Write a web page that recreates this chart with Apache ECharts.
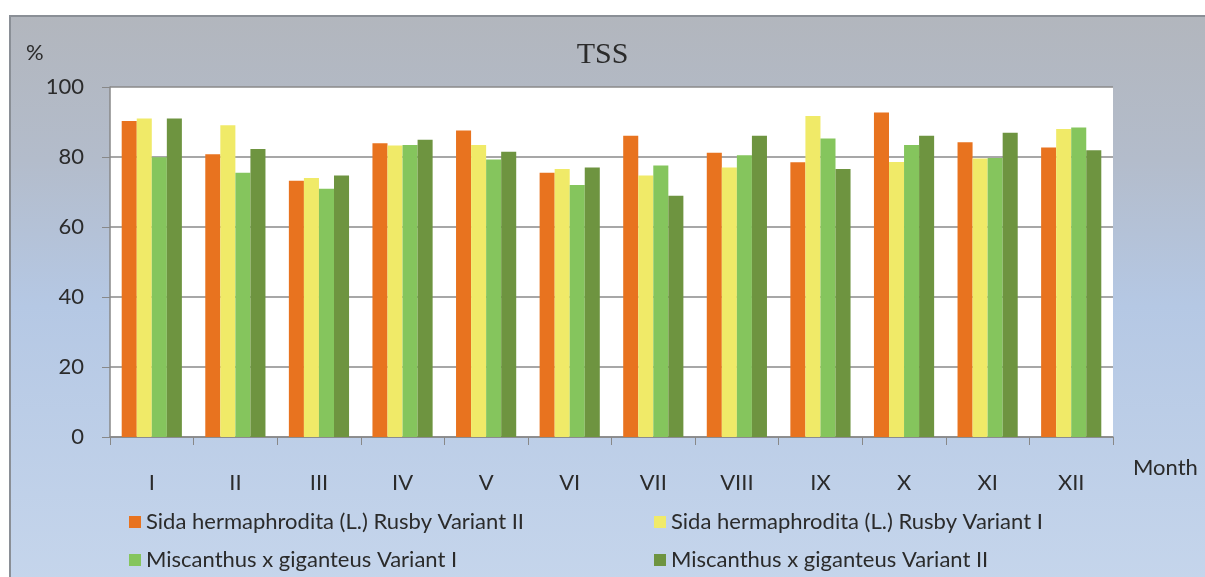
<!DOCTYPE html>
<html><head><meta charset="utf-8">
<script src="https://cdn.jsdelivr.net/npm/echarts@6/dist/echarts.min.js"></script>
<style>html,body{margin:0;padding:0;background:#fff}#c{width:1205px;height:577px}</style>
</head><body><div id="c"></div>
<script>
const months = ['I','II','III','IV','V','VI','VII','VIII','IX','X','XI','XII'];
const sidaV2 = [90.3, 80.8, 73.2, 83.9, 87.6, 75.5, 86.1, 81.2, 78.5, 92.7, 84.2, 82.7];
const sidaV1 = [91.0, 89.1, 74.0, 83.3, 83.4, 76.6, 74.7, 77.0, 91.7, 78.6, 79.6, 88.0];
const miscV1 = [79.9, 75.5, 70.9, 83.4, 79.3, 72.0, 77.6, 80.5, 85.3, 83.4, 79.7, 88.4];
const miscV2 = [91.0, 82.3, 74.7, 84.9, 81.5, 77.0, 68.9, 86.1, 76.6, 86.1, 86.9, 81.9];
const names = ['Sida hermaphrodita (L.) Rusby Variant II','Sida hermaphrodita (L.) Rusby Variant I','Miscanthus x giganteus Variant I','Miscanthus x giganteus Variant II'];
const colors = ['#E8731F','#F0EA68','#85C55D','#6E9440'];
const yTicks = [0,20,40,60,80,100];

const chart = echarts.init(document.getElementById('c'));
const font = 'Lato, "Open Sans", sans-serif';
const txt = '#2b2b2b';
const series = [sidaV2, sidaV1, miscV1, miscV2].map((d,i)=>({
  name: names[i], type:'bar', data:d, barGap:'0%', barCategoryGap:'28%',
  itemStyle:{color:colors[i]}, animation:false
}));
chart.setOption({
  animation:false,
  graphic:[{
    type:'rect', z:-10, shape:{x:10,y:16,width:1210,height:580},
    style:{fill:new echarts.graphic.LinearGradient(0,0,0,1,[
      {offset:0,color:'#b2b6bd'},{offset:0.25,color:'#b3bccb'},{offset:0.5,color:'#b5c8e4'},{offset:1,color:'#c6d6ec'}]),
      stroke:'#8a8f96', lineWidth:2}
  },{
    type:'text', left:1133, top:457, style:{text:'Month', font:'22px '+font, fill:txt}
  },{
    type:'text', left:26, top:42, style:{text:'%', font:'22px '+font, fill:txt}
  }],
  title:{text:'TSS', left:'center', top:35, textStyle:{fontFamily:'"Liberation Serif", "DejaVu Serif", serif', fontWeight:'normal', fontSize:30, color:txt}},
  grid:{left:110, right:92, top:87, bottom:140, show:true, backgroundColor:'#fff', borderWidth:0},
  legend:[{
    orient:'vertical', left:124, top:506, itemGap:16, itemWidth:12, itemHeight:12, icon:'rect',
    data:[names[0], names[2]], textStyle:{fontFamily:font, fontSize:22, color:txt}
  },{
    orient:'vertical', left:649, top:506, itemGap:16, itemWidth:12, itemHeight:12, icon:'rect',
    data:[names[1], names[3]], textStyle:{fontFamily:font, fontSize:22, color:txt}
  }],
  xAxis:{type:'category', data:months,
    axisLine:{lineStyle:{color:'#888', width:1.5}},
    axisTick:{show:true, length:8, lineStyle:{color:'#888'}},
    axisLabel:{margin:35, fontFamily:font, fontSize:22, color:txt}},
  yAxis:{type:'value', min:0, max:100, interval:20,
    axisLine:{show:true, lineStyle:{color:'#888', width:1.5}},
    axisTick:{show:true, length:8, inside:false, lineStyle:{color:'#888'}},
    splitLine:{lineStyle:{color:'#8a8a8a', width:1.5}},
    axisLabel:{margin:26, fontFamily:font, fontSize:22, color:txt,
      formatter:v=>yTicks.includes(v)?String(v):''}},
  series: series
});
</script></body></html>
